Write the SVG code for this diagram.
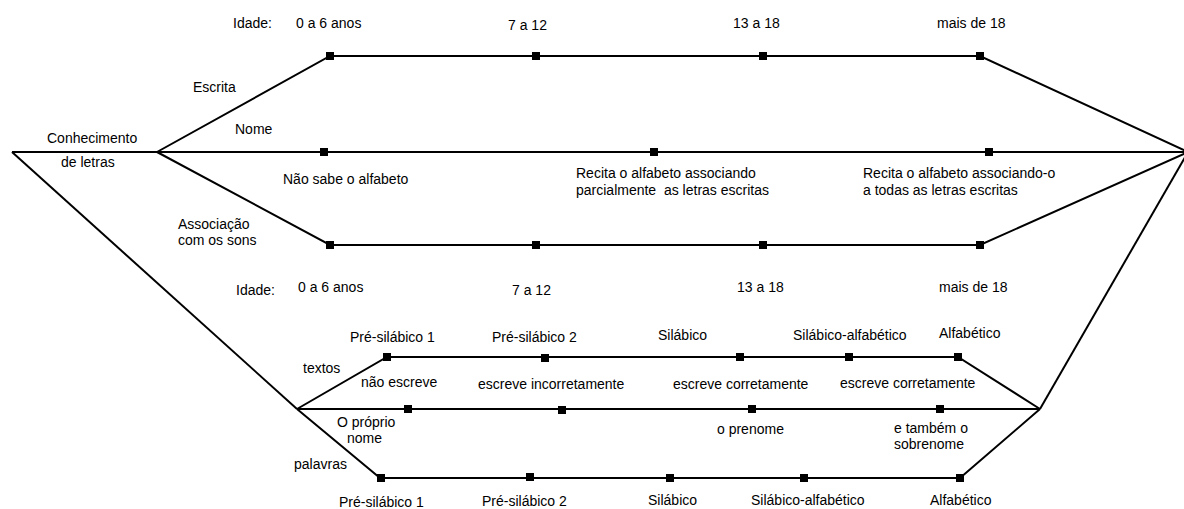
<svg xmlns="http://www.w3.org/2000/svg" width="1184" height="509" viewBox="0 0 1184 509">
<defs>
<style>
text{font-family:"Liberation Sans",Arial,sans-serif;font-size:14px;fill:#000}
.ln{fill:none;stroke:#000;stroke-width:2;stroke-linejoin:miter}
.mk{fill:#000}
</style>
<rect id="m" x="-4" y="-4" width="8" height="8" class="mk"/>
</defs>
<rect width="1184" height="509" fill="#fff"/>
<g id="connectors">
<polyline class="ln" points="12,152 157,152"/>
<polyline class="ln" points="157,152 330,56 980,56 1188,152"/>
<polyline class="ln" points="157,152 1188,152"/>
<polyline class="ln" points="157,152 330,245 980,245 1188,152"/>
<polyline class="ln" points="12,152 297,409"/>
<polyline class="ln" points="1188,152 1040,409"/>
<polyline class="ln" points="297,409 387,357 958,357 1040,409"/>
<polyline class="ln" points="297,409 1040,409"/>
<polyline class="ln" points="297,409 380,478 960,478 1040,409"/>
</g>
<g id="markers">
<use href="#m" x="330" y="56"/><use href="#m" x="536" y="56"/><use href="#m" x="763" y="56"/><use href="#m" x="980" y="56"/>
<use href="#m" x="324" y="152"/><use href="#m" x="654" y="152"/><use href="#m" x="989" y="152"/>
<use href="#m" x="330" y="245"/><use href="#m" x="536" y="245"/><use href="#m" x="763" y="245"/><use href="#m" x="980" y="245"/>
<use href="#m" x="387" y="357"/><use href="#m" x="545" y="358"/><use href="#m" x="740" y="357"/><use href="#m" x="849" y="357"/><use href="#m" x="958" y="357"/>
<use href="#m" x="408" y="409"/><use href="#m" x="562" y="410"/><use href="#m" x="752" y="409"/><use href="#m" x="940" y="409"/>
<use href="#m" x="381" y="478"/><use href="#m" x="530" y="477"/><use href="#m" x="670" y="478"/><use href="#m" x="804" y="478"/><use href="#m" x="960" y="478"/>
</g>
<g id="top-ages">
<text x="233" y="28">Idade:</text>
<text x="296" y="28">0 a 6 anos</text>
<text x="508" y="30">7 a 12</text>
<text x="733" y="28">13 a 18</text>
<text x="937" y="28">mais de 18</text>
</g>
<g id="root">
<text x="47" y="143">Conhecimento</text>
<text x="61" y="167">de letras</text>
</g>
<g id="escrita"><text x="193" y="92">Escrita</text></g>
<g id="nome">
<text x="235" y="134">Nome</text>
<text x="283" y="184">Não sabe o alfabeto</text>
<text x="576" y="178">Recita o alfabeto associando</text>
<text x="576" y="195" xml:space="preserve">parcialmente  as letras escritas</text>
<text x="863" y="178">Recita o alfabeto associando-o</text>
<text x="863" y="195">a todas as letras escritas</text>
</g>
<g id="associacao">
<text x="178" y="229">Associação</text>
<text x="178" y="245">com os sons</text>
</g>
<g id="bottom-ages">
<text x="236" y="295">Idade:</text>
<text x="298" y="292">0 a 6 anos</text>
<text x="512" y="295">7 a 12</text>
<text x="737" y="292">13 a 18</text>
<text x="939" y="292">mais de 18</text>
</g>
<g id="textos">
<text x="303" y="373">textos</text>
<text x="350" y="342">Pré-silábico 1</text>
<text x="492" y="342">Pré-silábico 2</text>
<text x="658" y="340">Silábico</text>
<text x="793" y="340">Silábico-alfabético</text>
<text x="939" y="338">Alfabético</text>
</g>
<g id="proprio-nome">
<text x="361" y="387">não escreve</text>
<text x="478" y="389">escreve incorretamente</text>
<text x="673" y="389">escreve corretamente</text>
<text x="840" y="388">escreve corretamente</text>
<text x="337" y="427">O próprio</text>
<text x="347" y="443">nome</text>
<text x="717" y="434">o prenome</text>
<text x="894" y="433">e também o</text>
<text x="894" y="449">sobrenome</text>
</g>
<g id="palavras">
<text x="294" y="469">palavras</text>
<text x="339" y="507">Pré-silábico 1</text>
<text x="482" y="506">Pré-silábico 2</text>
<text x="648" y="505">Silábico</text>
<text x="751" y="505">Silábico-alfabético</text>
<text x="930" y="505">Alfabético</text>
</g>
</svg>
